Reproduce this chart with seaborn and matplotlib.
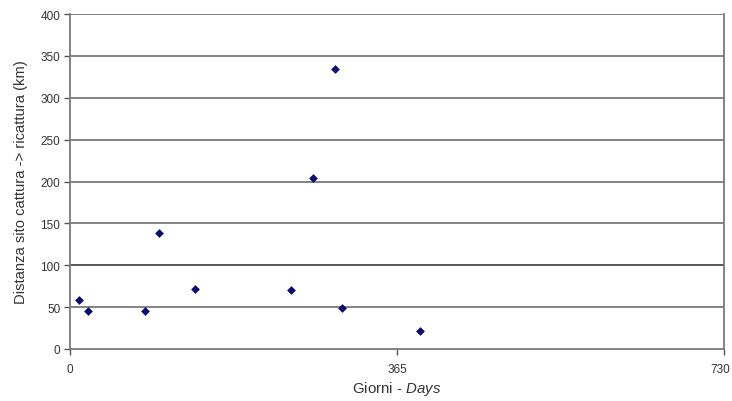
import matplotlib
matplotlib.use("Agg")
import matplotlib.pyplot as plt
import matplotlib.transforms as mtransforms
import seaborn as sns
import pandas as pd

# Days between capture and recapture, and distance (km)
giorni = [10, 20, 84, 99, 139, 247, 271, 296, 304, 391]
distanza = [58, 45, 45, 138, 72, 71, 204, 334, 49, 21]
x_ticks = [0, 365, 730]
y_ticks = [0, 50, 100, 150, 200, 250, 300, 350, 400]

sns.set_theme(style="white")
plt.rcParams['font.family'] = ['Liberation Sans', 'DejaVu Sans']
plt.rcParams['mathtext.fontset'] = 'custom'
plt.rcParams['mathtext.rm'] = 'Liberation Sans'
plt.rcParams['mathtext.it'] = 'Liberation Sans:italic'

df = pd.DataFrame({'giorni': giorni, 'distanza': distanza})

fig = plt.figure(figsize=(7.32, 4.02), dpi=100)
ax = fig.add_axes([70 / 732, 52 / 402, 654 / 732, 335 / 402])

sns.scatterplot(data=df, x='giorni', y='distanza', marker='D', s=20,
                color='#0b0b6e', edgecolor='#0b0b6e', linewidth=0, ax=ax, zorder=3)

ax.set_xlim(0, 730)
ax.set_ylim(0, 400)
ax.set_xticks(x_ticks)
ax.set_yticks(y_ticks)
for yv in y_ticks[1:]:
    ax.axhline(yv, color='#4a4a4a' if yv == 100 else '#7a7a7a', lw=1.3, zorder=1)

for side in ['left', 'bottom', 'right']:
    ax.spines[side].set_color('#7a7a7a')
    ax.spines[side].set_linewidth(1.3)
ax.spines['top'].set_visible(False)

ax.tick_params(axis='both', colors='#555555', labelsize=8.5, length=4, width=1, direction='out')
ax.tick_params(axis='y', pad=3)
ax.tick_params(axis='x', pad=6)
ax.yaxis.set_ticks_position('left')
ax.xaxis.set_ticks_position('bottom')
for lbl in ax.get_xticklabels() + ax.get_yticklabels():
    lbl.set_color('#333333')

# keep the last x label inside the canvas
last = ax.get_xticklabels()[-1]
last.set_transform(last.get_transform() +
                   mtransforms.ScaledTranslation(-4 / 100, 0, fig.dpi_scale_trans))

ax.set_xlabel(r'Giorni - $\it{Days}$', fontsize=10.8, color='#333333', labelpad=3)
ax.set_ylabel('Distanza sito cattura -> ricattura (km)', fontsize=10.6, color='#333333', labelpad=9)

fig.savefig('out.png', dpi=100)
